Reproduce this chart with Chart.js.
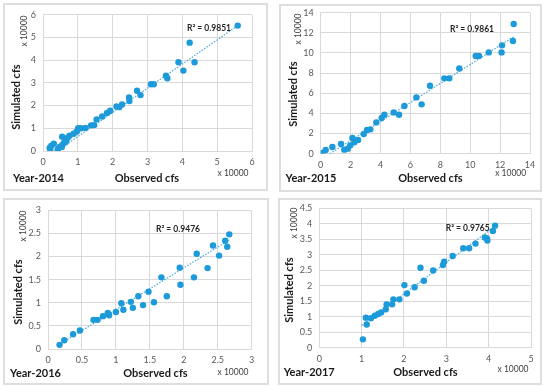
<!DOCTYPE html>
<html>
<head>
<meta charset="utf-8">
<script src="https://cdn.jsdelivr.net/npm/chart.js@4"></script>
<style>
  html,body{margin:0;padding:0;background:#fff;}
  #wrap{position:relative;width:550px;height:387px;overflow:hidden;background:#fff;font-family:Lato,"Open Sans",sans-serif;}
  .panel{position:absolute;border:2px solid #dedede;box-sizing:border-box;background:#fff;}
  canvas{position:absolute;}
  .t{position:absolute;white-space:nowrap;transform:translate(-50%,-50%);color:#1a1a1a;line-height:1;}
  .b{font-weight:bold;font-size:11px;}
  .u{font-size:8.5px;color:#404040;}
  .r{font-weight:bold;font-size:8.5px;color:#262626;}
  .rot{transform:translate(-50%,-50%) rotate(-90deg);}
</style>
</head>
<body>
<div id="wrap"></div>
<script>
// ---------- data ----------
const obs2014 = [5.59,4.21,3.89,4.35,4.03,3.53,3.57,3.10,3.18,2.70,2.80,2.47,2.48,2.27,2.11,2.19,1.93,1.84,1.70,1.54,1.47,1.38,1.22,1.09,1.01,0.97,0.88,0.76,0.71,0.55,0.67,0.60,0.55,0.48,0.44,0.42,0.31,0.24,0.19,0.21,0.54,0.65];
const sim2014 = [5.52,4.77,3.91,3.91,3.54,3.32,3.20,2.94,2.94,2.65,2.46,2.36,2.20,2.05,1.96,1.93,1.77,1.67,1.52,1.39,1.14,1.13,1.01,1.00,1.00,0.86,0.76,0.67,0.59,0.63,0.47,0.35,0.25,0.18,0.10,0.06,0.32,0.23,0.13,0.06,0.18,0.40];
const trendX2014 = [0.45,5.59];
const trendY2014 = [0.05,5.52];

const obs2015 = [12.91,12.86,12.13,12.10,11.24,10.59,10.37,9.27,8.60,8.27,7.31,6.75,6.40,5.60,5.24,4.88,4.26,4.08,3.72,3.32,3.10,2.88,2.50,2.25,2.12,1.98,1.81,1.58,1.36,0.78,0.33,0.11];
const sim2015 = [12.88,11.19,10.76,10.06,10.06,9.70,9.70,8.47,7.48,7.48,6.75,4.90,5.59,4.73,3.87,4.10,3.87,3.54,3.11,2.42,2.35,1.95,1.36,1.13,1.56,0.83,0.50,0.40,0.96,0.66,0.36,0.07];
const trendX2015 = [0.62,12.95];
const trendY2015 = [0.0,11.65];

const obs2016 = [2.67,2.61,2.64,2.43,2.52,2.19,2.35,2.15,1.94,1.95,1.67,1.75,1.48,1.56,1.33,1.40,1.22,1.25,1.08,1.11,1.00,0.88,0.90,0.81,0.73,0.67,0.47,0.37,0.24,0.17];
const sim2016 = [2.48,2.34,2.21,2.24,2.02,2.06,1.75,1.55,1.76,1.39,1.55,1.14,1.24,1.01,1.14,0.95,1.02,0.89,0.99,0.85,0.80,0.78,0.73,0.71,0.63,0.63,0.40,0.32,0.19,0.09];
const trendX2016 = [0.17,2.67];
const trendY2016 = [0.10,2.36];

const obs2017 = [4.15,4.10,3.96,3.97,3.91,3.69,3.54,3.40,3.15,2.95,2.92,2.69,2.47,2.39,2.25,2.07,2.01,1.89,1.75,1.72,1.59,1.57,1.46,1.39,1.31,1.22,1.10,1.12,1.03];
const sim2017 = [3.94,3.77,3.53,3.46,3.56,3.36,3.21,3.21,2.96,2.78,2.67,2.49,2.16,2.58,1.95,1.75,2.02,1.56,1.56,1.40,1.40,1.24,1.14,1.09,1.03,0.95,0.97,0.75,0.27];
const trendX2017 = [1.0,4.15];
const trendY2017 = [0.72,3.92];

const xTicks2014 = [0,1,2,3,4,5,6],           yTicks2014 = [0,1,2,3,4,5,6];
const xTicks2015 = [0,2,4,6,8,10,12,14],      yTicks2015 = [0,2,4,6,8,10,12,14];
const xTicks2016 = [0,0.5,1,1.5,2,2.5,3],     yTicks2016 = [0,0.5,1,1.5,2,2.5,3];
const xTicks2017 = [0,1,2,3,4,5],             yTicks2017 = [0,0.5,1,1.5,2,2.5,3,3.5,4,4.5];

const yearLabels = ['Year-2014','Year-2015','Year-2016','Year-2017'];
const r2Labels = ['R\u00B2 = 0.9851','R\u00B2 = 0.9861','R\u00B2 = 0.9476','R\u00B2 = 0.9765'];
const xTitle = 'Observed cfs', yTitle = 'Simulated cfs', unitLabel = 'x 10000';

// ---------- layout ----------
const panels = [
  {obs:obs2014, sim:sim2014, tx:trendX2014, ty:trendY2014, xt:xTicks2014, yt:yTicks2014,
   canvas:[0,0,275,195], area:[43,14.7,252,151], box:[3,3,268,191],
   txt:{yt:[15,97], yu:[24,31], yr:[38.5,177], xt:[147,177], xu:[233,173], r2:[209,28]}},
  {obs:obs2015, sim:sim2015, tx:trendX2015, ty:trendY2015, xt:xTicks2015, yt:yTicks2015,
   canvas:[275,0,275,195], area:[45.7,12.7,255,153.7], box:[279,4,542,192],
   txt:{yt:[291.7,94], yu:[297.7,29], yr:[311,177], xt:[430.5,177], xu:[510.7,173], r2:[472,28.7]}},
  {obs:obs2016, sim:sim2016, tx:trendX2016, ty:trendY2016, xt:xTicks2016, yt:yTicks2016,
   canvas:[0,195,275,192], area:[48,15.3,251.7,154], box:[3,198,269,385],
   txt:{yt:[17,292], yu:[22.7,226], yr:[35.5,371.7], xt:[155.5,371.7], xu:[233,371.7], r2:[178,229.3]}},
  {obs:obs2017, sim:sim2017, tx:trendX2017, ty:trendY2017, xt:xTicks2017, yt:yTicks2017,
   canvas:[275,195,275,192], area:[44.3,13.3,256,152.7], box:[278,198,542,385],
   txt:{yt:[288.3,290], yu:[294.3,223], yr:[309.2,370.7], xt:[425.5,370.7], xu:[513,369], r2:[467.7,227.7]}}
];

const wrap = document.getElementById('wrap');
function addText(str, cls, pos){
  const d = document.createElement('div');
  d.className = 't ' + cls;
  d.textContent = str;
  d.style.left = pos[0] + 'px';
  d.style.top = pos[1] + 'px';
  wrap.appendChild(d);
}

const tickFont = {family:'Lato, "Open Sans", sans-serif', size:9};
const tickColor = '#595959';
const gridColor = '#d9d9d9';
const pointColor = '#1c9ad9';
const X_AXIS_H = 20;
const fmt = v => String(v);

panels.forEach((p, i) => {
  const b = document.createElement('div');
  b.className = 'panel';
  b.style.left = p.box[0] + 'px'; b.style.top = p.box[1] + 'px';
  b.style.width = (p.box[2]-p.box[0]) + 'px'; b.style.height = (p.box[3]-p.box[1]) + 'px';
  wrap.appendChild(b);

  const [cx, cy, cw, ch] = p.canvas;
  const [L, T, R, B] = p.area;
  const c = document.createElement('canvas');
  c.style.left = cx + 'px'; c.style.top = cy + 'px';
  c.style.width = cw + 'px'; c.style.height = ch + 'px';
  c.width = cw; c.height = ch;
  wrap.appendChild(c);

  const pts = p.obs.map((v, k) => ({x: v, y: p.sim[k]}));
  const trend = p.tx.map((v, k) => ({x: v, y: p.ty[k]}));
  const xt = p.xt, yt = p.yt;

  new Chart(c, {
    type: 'scatter',
    data: {
      datasets: [
        {data: pts, backgroundColor: pointColor, borderColor: pointColor, pointRadius: 3.2, pointHoverRadius: 3.2, borderWidth: 0},
        {type: 'line', data: trend, borderColor: '#4ba8de', borderWidth: 1.2, borderDash: [1.5, 1.5], pointRadius: 0, fill: false, tension: 0}
      ]
    },
    options: {
      responsive: false,
      animation: false,
      devicePixelRatio: 1,
      layout: {padding: {left: 0, top: T, right: cw - R, bottom: ch - B - X_AXIS_H}},
      plugins: {legend: {display: false}, tooltip: {enabled: false}},
      scales: {
        x: {
          type: 'linear', min: xt[0], max: xt[xt.length-1],
          afterFit: s => { s.height = X_AXIS_H; },
          afterBuildTicks: s => { s.ticks = xt.map(v => ({value: v})); },
          grid: {color: gridColor, lineWidth: 1, drawTicks: false},
          border: {display: true, color: gridColor, width: 1},
          ticks: {font: tickFont, color: tickColor, padding: 6, maxRotation: 0, callback: fmt}
        },
        y: {
          type: 'linear', min: yt[0], max: yt[yt.length-1],
          afterFit: s => { s.width = L; },
          afterBuildTicks: s => { s.ticks = yt.map(v => ({value: v})); },
          grid: {color: gridColor, lineWidth: 1, drawTicks: false},
          border: {display: true, color: gridColor, width: 1},
          ticks: {font: tickFont, color: tickColor, padding: 7, callback: fmt}
        }
      }
    }
  });

  addText(yTitle, 'b rot', p.txt.yt);
  addText(unitLabel, 'u rot', p.txt.yu);
  addText(yearLabels[i], 'b', p.txt.yr);
  addText(xTitle, 'b', p.txt.xt);
  addText(unitLabel, 'u', p.txt.xu);
  addText(r2Labels[i], 'r', p.txt.r2);
});
</script>
</body>
</html>
